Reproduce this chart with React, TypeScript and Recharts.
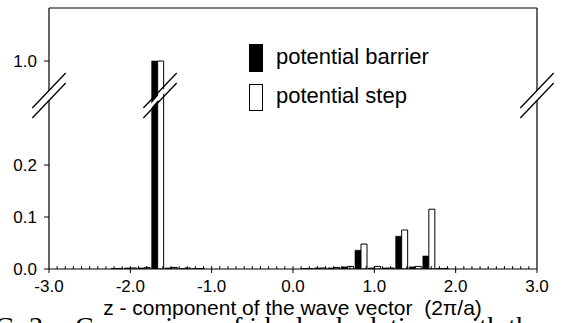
import React from "react";
import { BarChart, Bar, XAxis, YAxis, ReferenceLine } from "recharts";

// wave-vector positions (units of 2π/a)
const kValues = [-2.167, -2.0, -1.833, -1.667, -1.5, -1.333, -1.167, 0.167, 0.333, 0.5, 0.667, 0.833, 1.0, 1.167, 1.333, 1.5, 1.667, 1.833];
const barrierValues = [0.001, 0.002, 0.002, 1.0, 0.002, 0.001, 0.001, 0.001, 0.002, 0.002, 0.004, 0.036, 0.002, 0.002, 0.063, 0.004, 0.025, 0.001];
const stepValues = [0.001, 0.002, 0.003, 1.0, 0.003, 0.002, 0.001, 0.001, 0.002, 0.003, 0.005, 0.048, 0.005, 0.002, 0.075, 0.005, 0.115, 0.001];

const xTicks = [-3, -2, -1, 0, 1, 2, 3];
const yTickValues = [0, 0.1, 0.2, 1.0];
const seriesNames = ["potential barrier", "potential step"];

// broken axis: values above the break are shifted down
const BREAK_SHIFT = 0.6;
const toPlot = (v: number) => (v > 0.5 ? v - BREAK_SHIFT : v);
const fromPlot = (t: number) => (t > 0.3 ? t + BREAK_SHIFT : t);
const Y_TOP = 0.502;

const data = kValues.map((k, i) => ({
  k,
  barrier: toPlot(barrierValues[i]),
  step: toPlot(stepValues[i]),
}));

const minorTicks = Array.from({ length: 59 }, (_, i) => Math.round((-2.9 + i * 0.1) * 10) / 10);
const MINOR_LEN = 0.0055;

const FONT = "'Liberation Sans', Arial, Helvetica, sans-serif";

// break marks (x offsets in data units, y in plotted units)
const breakCenters = [-3, -1.635, 3];
const BW = 0.205;
const yLo1 = 0.2904, yHi1 = 0.3577, yLo2 = 0.3096, yHi2 = 0.3769;

export default function App() {
  return (
    <div style={{ position: "absolute", left: 0, top: 0, width: 563, height: 323, background: "#fff", overflow: "hidden" }}>
      <BarChart
        width={563}
        height={323}
        data={data}
        margin={{ top: 8, right: 26, left: 0, bottom: 24 }}
        barGap={0}
        barSize={6}
      >
        <XAxis
          dataKey="k"
          type="number"
          domain={[-3, 3]}
          ticks={xTicks}
          tickFormatter={(v: number) => v.toFixed(1)}
          tick={{ fontSize: 17, fill: "#000", fontFamily: FONT }}
          tickSize={4}
          tickMargin={7}
          stroke="#000"
          height={30}
          allowDataOverflow
        />
        <YAxis
          type="number"
          domain={[0, Y_TOP]}
          ticks={yTickValues.map(toPlot)}
          tickFormatter={(t: number) => fromPlot(t).toFixed(1)}
          tick={{ fontSize: 17, fill: "#000", fontFamily: FONT }}
          tickSize={5}
          tickMargin={7}
          axisLine={false}
          stroke="#000"
          width={49}
          allowDataOverflow
        />
        <Bar dataKey="barrier" name={seriesNames[0]} fill="#000" stroke="#000" strokeWidth={0.6} isAnimationActive={false} />
        <Bar dataKey="step" name={seriesNames[1]} fill="#fff" stroke="#000" strokeWidth={1} isAnimationActive={false} />
        {/* minor ticks pointing inward */}
        {minorTicks.map((m) => (
          <ReferenceLine
            key={"m" + m}
            segment={[{ x: m, y: 0 }, { x: m, y: MINOR_LEN }]}
            stroke="#000"
            strokeWidth={1}
          />
        ))}
        {/* frame */}
        <ReferenceLine x={-3} stroke="#000" strokeWidth={1.2} />
        <ReferenceLine x={3} stroke="#000" strokeWidth={1.2} />
        <ReferenceLine y={Y_TOP} stroke="#000" strokeWidth={1.2} />
        {/* break marks */}
        {breakCenters.map((c, i) => (
          <ReferenceLine
            key={"w" + i}
            ifOverflow="visible"
            segment={[{ x: c - BW * 0.8, y: (yLo1 + yLo2) / 2 + 0.004 }, { x: c + BW * 0.8, y: (yHi1 + yHi2) / 2 - 0.004 }]}
            stroke="#fff"
            strokeWidth={i === 1 ? 3 : 7}
          />
        ))}
        {breakCenters.map((c, i) => (
          <ReferenceLine
            key={"a" + i}
            ifOverflow="visible"
            segment={[{ x: c - BW, y: yLo1 }, { x: c + BW, y: yHi1 }]}
            stroke="#000"
            strokeWidth={1.3}
          />
        ))}
        {breakCenters.map((c, i) => (
          <ReferenceLine
            key={"b" + i}
            ifOverflow="visible"
            segment={[{ x: c - BW, y: yLo2 }, { x: c + BW, y: yHi2 }]}
            stroke="#000"
            strokeWidth={1.3}
          />
        ))}
      </BarChart>
      <svg width={563} height={323} style={{ position: "absolute", left: 0, top: 0, pointerEvents: "none" }}>
        <rect x={249.5} y={44.5} width={13} height={27} fill="#000" stroke="#000" />
        <rect x={249.5} y={84.5} width={13} height={26} fill="#fff" stroke="#000" />
        <text x={276} y={64} fontSize={22} fontFamily={FONT} fill="#000">{seriesNames[0]}</text>
        <text x={276} y={103} fontSize={22} fontFamily={FONT} fill="#000">{seriesNames[1]}</text>
        <text x={292.5} y={315} fontSize={21} fontFamily={FONT} fill="#000" textAnchor="middle" style={{ whiteSpace: "pre" }}>
          {"z - component of the wave vector  (2π/a)"}
        </text>
        <text x={50} y={336} fontSize={28} fontFamily="'Liberation Serif', 'DejaVu Serif', serif" fill="#000" textAnchor="end">FIG. 3.</text>
        <text x={75} y={336} fontSize={28} fontFamily="'Liberation Serif', 'DejaVu Serif', serif" fill="#000" style={{ whiteSpace: "pre" }}>
          {"Comparison of ideal calculations with the exact"}
        </text>
      </svg>
    </div>
  );
}
